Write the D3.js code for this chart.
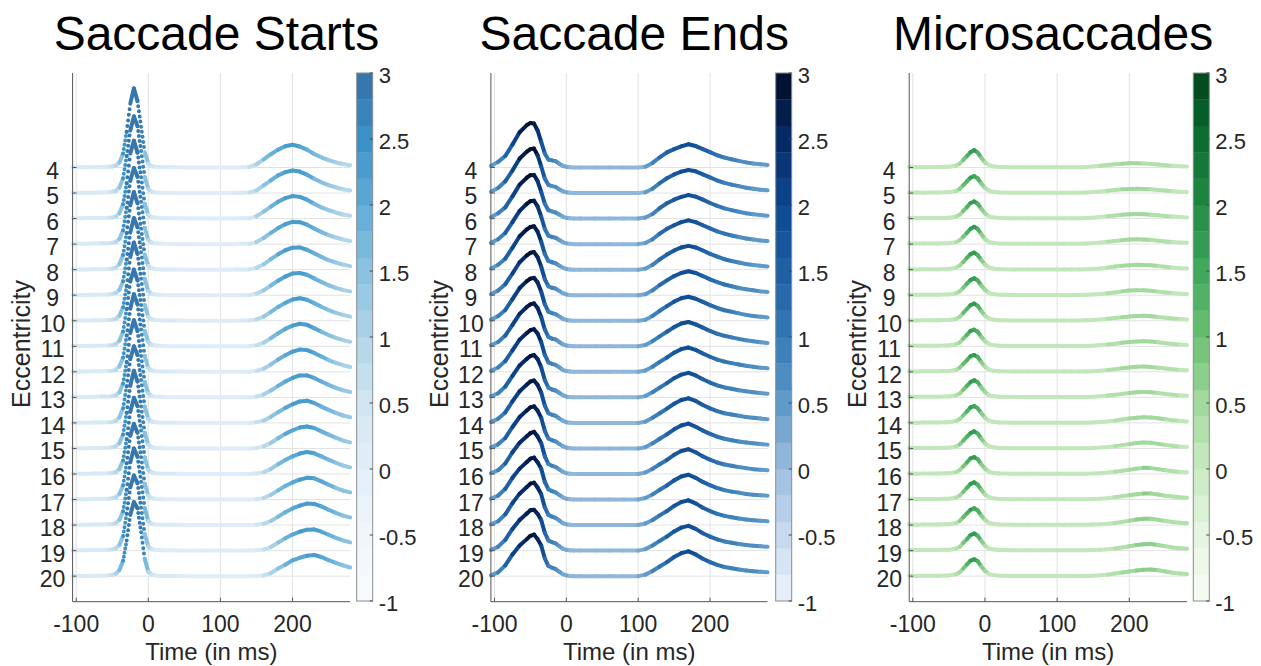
<!DOCTYPE html>
<html>
<head>
<meta charset="utf-8">
<script src="https://cdn.jsdelivr.net/npm/d3@7"></script>
<style>
  body { margin: 0; background: #fff; }
  text { font-family: "Liberation Sans", Arial, Helvetica, sans-serif; fill: #262626; }
</style>
</head>
<body>
<svg id="chart" width="1261" height="666"></svg>
<script>
// Ridge plots of event rates by eccentricity, one panel per event type

// ---- data (amplitudes in eccentricity-row units) ----
const timeMs = [-105, -95, -85, -75, -65, -55, -50, -45, -40, -35, -30, -25, -20, -15, -10, -5, 0, 5, 10, 20,
  40, 60, 80, 100, 110, 120, 130, 140, 150, 160, 170, 180, 190, 200, 210, 220, 230, 240, 250, 260, 270, 280];
const eccentricity = [4, 5, 6, 7, 8, 9, 10, 11, 12, 13, 14, 15, 16, 17, 18, 19, 20];
const xTickValues = [-100, 0, 100, 200];
const cbTickValues = [-1, -0.5, 0, 0.5, 1, 1.5, 2, 2.5, 3];
const panelTitles = ['Saccade Starts', 'Saccade Ends', 'Microsaccades'];

const startsRows = [
  [0.01,0.01,0.01,0.02,0.02,0.03,0.04,0.08,0.20,0.55,1.40,2.50,3.10,2.60,1.60,0.60,0.15,0.05,0.03,0.01,0.01,0.00,0.00,0.00,0.00,0.00,0.01, 0.02,0.12,0.32,0.52,0.70,0.83,0.89,0.82,0.70,0.53,0.40,0.29,0.20,0.14,0.09],
  [0.01,0.01,0.01,0.01,0.02,0.03,0.05,0.09,0.22,0.58,1.45,2.45,3.00,2.62,1.65,0.62,0.16,0.05,0.02,0.01,0.00,0.00,0.00,0.00,0.00,0.01,0.01, 0.02,0.10,0.30,0.50,0.69,0.82,0.88,0.84,0.72,0.56,0.42,0.31,0.22,0.15,0.10],
  [0.01,0.01,0.02,0.02,0.02,0.03,0.04,0.08,0.21,0.56,1.38,2.55,3.05,2.58,1.62,0.58,0.15,0.05,0.03,0.01,0.01,0.00,0.00,0.00,0.00,0.00,0.01, 0.01,0.09,0.27,0.47,0.66,0.80,0.88,0.85,0.74,0.58,0.44,0.33,0.24,0.16,0.11],
  [0.01,0.01,0.01,0.02,0.03,0.03,0.05,0.09,0.20,0.54,1.42,2.48,2.98,2.64,1.66,0.63,0.16,0.06,0.03,0.01,0.00,0.00,0.00,0.00,0.00,0.00,0.01, 0.01,0.08,0.24,0.44,0.63,0.78,0.87,0.86,0.76,0.61,0.47,0.35,0.26,0.18,0.12],
  [0.01,0.01,0.01,0.02,0.02,0.03,0.04,0.08,0.22,0.57,1.44,2.52,3.04,2.60,1.60,0.60,0.15,0.05,0.02,0.01,0.01,0.00,0.00,0.00,0.00,0.01,0.01, 0.01,0.07,0.21,0.41,0.60,0.76,0.86,0.87,0.78,0.64,0.50,0.37,0.28,0.20,0.14],
  [0.01,0.01,0.01,0.02,0.02,0.03,0.05,0.09,0.21,0.55,1.40,2.46,3.02,2.66,1.68,0.64,0.16,0.05,0.03,0.01,0.00,0.00,0.00,0.00,0.00,0.00,0.01, 0.01,0.06,0.19,0.38,0.57,0.73,0.85,0.87,0.80,0.66,0.52,0.39,0.29,0.21,0.15],
  [0.01,0.01,0.01,0.02,0.02,0.03,0.04,0.08,0.20,0.53,1.36,2.50,3.06,2.62,1.64,0.61,0.15,0.05,0.03,0.01,0.01,0.00,0.00,0.00,0.00,0.00,0.01, 0.01,0.05,0.16,0.35,0.54,0.70,0.83,0.88,0.82,0.69,0.55,0.42,0.31,0.23,0.16],
  [0.01,0.01,0.01,0.02,0.02,0.03,0.05,0.09,0.22,0.58,1.46,2.54,3.00,2.58,1.62,0.60,0.16,0.06,0.03,0.01,0.00,0.00,0.00,0.00,0.00,0.00,0.00, 0.00,0.04,0.14,0.32,0.51,0.68,0.81,0.88,0.84,0.71,0.57,0.44,0.33,0.24,0.18],
  [0.01,0.01,0.01,0.02,0.02,0.03,0.04,0.08,0.21,0.56,1.42,2.48,3.04,2.64,1.66,0.62,0.15,0.05,0.02,0.01,0.01,0.00,0.00,0.00,0.00,0.00,0.00, 0.00,0.04,0.12,0.29,0.48,0.65,0.79,0.87,0.85,0.74,0.60,0.46,0.35,0.26,0.19],
  [0.01,0.01,0.01,0.02,0.03,0.03,0.05,0.09,0.20,0.54,1.38,2.52,3.02,2.60,1.62,0.60,0.16,0.05,0.03,0.01,0.00,0.00,0.00,0.00,0.00,0.00,0.00, 0.00,0.03,0.11,0.27,0.45,0.62,0.76,0.86,0.86,0.76,0.62,0.49,0.37,0.28,0.21],
  [0.01,0.01,0.01,0.02,0.02,0.03,0.04,0.08,0.22,0.57,1.44,2.50,3.00,2.66,1.68,0.64,0.16,0.05,0.03,0.01,0.01,0.00,0.00,0.00,0.00,0.00,0.00, 0.00,0.03,0.09,0.24,0.42,0.59,0.73,0.84,0.87,0.78,0.64,0.51,0.39,0.29,0.22],
  [0.01,0.01,0.01,0.02,0.02,0.03,0.05,0.09,0.21,0.55,1.40,2.46,3.04,2.62,1.64,0.61,0.15,0.05,0.02,0.01,0.00,0.00,0.00,0.00,0.00,0.00,0.00, 0.00,0.02,0.08,0.22,0.40,0.57,0.71,0.82,0.86,0.80,0.67,0.54,0.42,0.31,0.24],
  [0.01,0.01,0.01,0.02,0.02,0.03,0.04,0.08,0.20,0.53,1.36,2.44,2.98,2.66,1.70,0.65,0.16,0.06,0.03,0.01,0.01,0.00,0.00,0.00,0.00,0.00,0.00, 0.00,0.02,0.07,0.20,0.38,0.55,0.69,0.80,0.86,0.81,0.69,0.56,0.44,0.33,0.26],
  [0.01,0.01,0.01,0.02,0.02,0.03,0.05,0.09,0.22,0.56,1.42,2.50,2.96,2.62,1.66,0.62,0.15,0.05,0.03,0.01,0.00,0.00,0.00,0.00,0.00,0.00,0.00, 0.00,0.01,0.06,0.18,0.36,0.53,0.67,0.78,0.85,0.83,0.71,0.58,0.46,0.35,0.28],
  [0.01,0.01,0.01,0.02,0.02,0.03,0.04,0.08,0.21,0.54,1.38,2.46,3.00,2.68,1.70,0.66,0.16,0.05,0.02,0.01,0.01,0.00,0.00,0.00,0.00,0.00,0.00, 0.00,0.01,0.05,0.16,0.33,0.50,0.65,0.76,0.84,0.83,0.73,0.60,0.48,0.37,0.30],
  [0.01,0.01,0.01,0.02,0.02,0.03,0.05,0.09,0.22,0.57,1.44,2.48,2.94,2.64,1.68,0.64,0.16,0.06,0.03,0.01,0.00,0.00,0.00,0.00,0.00,0.00,0.00, 0.00,0.01,0.04,0.14,0.32,0.48,0.63,0.74,0.82,0.83,0.74,0.62,0.50,0.40,0.32],
  [0.01,0.01,0.01,0.02,0.02,0.03,0.05,0.10,0.24,0.60,1.40,2.40,2.90,2.66,1.72,0.68,0.17,0.06,0.03,0.01,0.01,0.00,0.00,0.00,0.00,0.00,0.00, 0.00,0.01,0.03,0.12,0.30,0.45,0.62,0.72,0.80,0.83,0.75,0.63,0.52,0.42,0.34]
];

const endsRows = [
  [0.06,0.22,0.45,0.90,1.38,1.66,1.74,1.72,1.45,1.00,0.55,0.31,0.28,0.25,0.15,0.07,0.03,0.01,0.00,0.00,0.00,0.00,0.00,0.00, 0.03,0.18,0.40, 0.59,0.72,0.83,0.91,0.84,0.72,0.60,0.48,0.39,0.32,0.26,0.20,0.16,0.13,0.10],
  [0.05,0.20,0.46,0.88,1.35,1.62,1.72,1.74,1.48,1.04,0.57,0.32,0.27,0.24,0.15,0.07,0.03,0.01,0.00,0.00,0.00,0.00,0.00,0.00, 0.03,0.17,0.39, 0.58,0.73,0.84,0.90,0.85,0.73,0.61,0.49,0.40,0.33,0.27,0.21,0.17,0.13,0.11],
  [0.05,0.21,0.44,0.87,1.33,1.60,1.70,1.71,1.47,1.05,0.58,0.33,0.28,0.24,0.16,0.08,0.03,0.01,0.00,0.00,0.00,0.00,0.00,0.00, 0.04,0.18,0.41, 0.60,0.74,0.85,0.92,0.86,0.74,0.61,0.50,0.40,0.33,0.27,0.21,0.17,0.14,0.11],
  [0.05,0.19,0.44,0.86,1.30,1.58,1.68,1.70,1.48,1.08,0.60,0.33,0.28,0.25,0.16,0.08,0.03,0.01,0.00,0.00,0.00,0.00,0.00,0.00, 0.04,0.19,0.41, 0.60,0.74,0.86,0.93,0.86,0.74,0.62,0.50,0.41,0.34,0.28,0.22,0.18,0.14,0.12],
  [0.04,0.19,0.43,0.86,1.31,1.58,1.67,1.70,1.49,1.10,0.62,0.34,0.29,0.25,0.16,0.08,0.03,0.01,0.00,0.00,0.00,0.00,0.00,0.00, 0.04,0.19,0.40, 0.59,0.75,0.87,0.93,0.87,0.75,0.62,0.51,0.41,0.34,0.28,0.22,0.18,0.15,0.12],
  [0.04,0.18,0.43,0.85,1.29,1.56,1.66,1.69,1.49,1.12,0.63,0.35,0.29,0.26,0.17,0.08,0.03,0.01,0.00,0.00,0.00,0.00,0.00,0.00, 0.04,0.19,0.40, 0.58,0.75,0.87,0.94,0.87,0.75,0.62,0.51,0.42,0.35,0.28,0.23,0.19,0.15,0.13],
  [0.04,0.18,0.42,0.85,1.28,1.55,1.65,1.68,1.50,1.14,0.65,0.36,0.30,0.26,0.17,0.08,0.03,0.01,0.00,0.00,0.00,0.00,0.00,0.00, 0.04,0.19,0.39, 0.57,0.75,0.88,0.94,0.86,0.74,0.61,0.50,0.41,0.35,0.29,0.23,0.19,0.16,0.13],
  [0.04,0.17,0.42,0.84,1.27,1.54,1.64,1.68,1.50,1.15,0.66,0.37,0.30,0.27,0.17,0.08,0.03,0.01,0.00,0.00,0.00,0.00,0.00,0.00, 0.05,0.20,0.39, 0.57,0.75,0.89,0.95,0.86,0.73,0.60,0.49,0.41,0.35,0.29,0.24,0.20,0.16,0.13],
  [0.04,0.17,0.42,0.84,1.26,1.52,1.63,1.67,1.50,1.17,0.67,0.37,0.31,0.27,0.18,0.08,0.03,0.01,0.00,0.00,0.00,0.00,0.00,0.00, 0.05,0.20,0.39, 0.56,0.75,0.89,0.95,0.86,0.72,0.59,0.48,0.40,0.34,0.29,0.24,0.20,0.16,0.14],
  [0.04,0.16,0.42,0.84,1.25,1.51,1.62,1.66,1.50,1.18,0.68,0.38,0.31,0.27,0.18,0.09,0.03,0.01,0.00,0.00,0.00,0.00,0.00,0.00, 0.05,0.20,0.38, 0.56,0.75,0.89,0.96,0.86,0.71,0.58,0.47,0.39,0.34,0.28,0.24,0.20,0.17,0.14],
  [0.04,0.16,0.41,0.84,1.24,1.50,1.62,1.66,1.49,1.19,0.68,0.38,0.32,0.28,0.18,0.09,0.03,0.01,0.00,0.00,0.00,0.00,0.00,0.00, 0.05,0.20,0.38, 0.56,0.75,0.90,0.96,0.86,0.70,0.57,0.46,0.38,0.33,0.28,0.23,0.20,0.17,0.14],
  [0.03,0.16,0.41,0.84,1.23,1.49,1.61,1.65,1.48,1.20,0.69,0.39,0.32,0.28,0.18,0.09,0.03,0.01,0.00,0.00,0.00,0.00,0.00,0.00, 0.05,0.20,0.38, 0.55,0.75,0.90,0.97,0.85,0.70,0.57,0.46,0.38,0.32,0.27,0.23,0.20,0.17,0.15],
  [0.03,0.15,0.41,0.85,1.22,1.48,1.60,1.65,1.47,1.21,0.70,0.39,0.32,0.28,0.18,0.09,0.03,0.01,0.00,0.00,0.00,0.00,0.00,0.00, 0.06,0.20,0.38, 0.55,0.75,0.90,0.97,0.85,0.69,0.56,0.45,0.37,0.32,0.27,0.23,0.19,0.17,0.15],
  [0.03,0.15,0.42,0.85,1.21,1.47,1.60,1.64,1.46,1.21,0.70,0.40,0.33,0.28,0.18,0.09,0.03,0.01,0.00,0.00,0.00,0.00,0.00,0.00, 0.06,0.20,0.38, 0.55,0.75,0.90,0.97,0.85,0.69,0.56,0.45,0.37,0.31,0.27,0.22,0.19,0.17,0.15],
  [0.03,0.15,0.42,0.86,1.23,1.49,1.62,1.66,1.47,1.21,0.70,0.40,0.33,0.28,0.18,0.08,0.03,0.01,0.00,0.00,0.00,0.00,0.00,0.00, 0.06,0.20,0.38, 0.55,0.75,0.90,0.97,0.85,0.68,0.55,0.44,0.36,0.31,0.26,0.22,0.19,0.17,0.15],
  [0.03,0.15,0.42,0.85,1.20,1.45,1.58,1.60,1.44,1.20,0.70,0.40,0.33,0.28,0.18,0.08,0.03,0.01,0.00,0.00,0.00,0.00,0.00,0.00, 0.06,0.20,0.38, 0.55,0.75,0.90,0.97,0.85,0.68,0.55,0.44,0.36,0.31,0.26,0.22,0.19,0.17,0.15],
  [0.03,0.15,0.42,0.85,1.20,1.45,1.58,1.63,1.45,1.20,0.70,0.40,0.33,0.28,0.18,0.08,0.03,0.01,0.00,0.00,0.00,0.00,0.00,0.00, 0.06,0.20,0.38, 0.55,0.75,0.90,0.97,0.85,0.68,0.55,0.44,0.36,0.31,0.26,0.22,0.19,0.17,0.15]
];

const microRows = [
  [0.02,0.01,0.02,0.02,0.02,0.03,0.03,0.05,0.08,0.15,0.30,0.45,0.60,0.68,0.58,0.38,0.20,0.10,0.05,0.02,0.01,0.01,0.01,0.01,0.01,0.01,0.01, 0.02,0.04,0.07,0.10,0.13,0.15,0.17,0.17,0.16,0.14,0.12,0.09,0.07,0.05,0.04],
  [0.02,0.02,0.01,0.02,0.02,0.03,0.03,0.05,0.08,0.16,0.31,0.46,0.60,0.66,0.57,0.37,0.20,0.10,0.05,0.02,0.01,0.01,0.01,0.01,0.01,0.01,0.01, 0.02,0.04,0.06,0.09,0.12,0.15,0.16,0.17,0.16,0.15,0.12,0.10,0.07,0.05,0.04],
  [0.02,0.01,0.02,0.02,0.02,0.02,0.03,0.05,0.08,0.15,0.30,0.45,0.61,0.67,0.58,0.38,0.21,0.10,0.05,0.02,0.01,0.01,0.01,0.01,0.01,0.01,0.01, 0.02,0.03,0.06,0.09,0.12,0.15,0.17,0.18,0.17,0.15,0.13,0.10,0.08,0.06,0.04],
  [0.02,0.02,0.02,0.02,0.02,0.03,0.03,0.05,0.08,0.15,0.29,0.44,0.60,0.68,0.59,0.39,0.20,0.10,0.05,0.02,0.01,0.01,0.01,0.01,0.01,0.01,0.01, 0.02,0.03,0.06,0.09,0.12,0.15,0.18,0.19,0.18,0.16,0.13,0.10,0.08,0.06,0.05],
  [0.02,0.01,0.02,0.02,0.02,0.03,0.03,0.05,0.08,0.16,0.30,0.46,0.61,0.67,0.57,0.37,0.20,0.10,0.05,0.02,0.01,0.01,0.01,0.01,0.01,0.01,0.01, 0.02,0.03,0.05,0.08,0.12,0.15,0.17,0.19,0.18,0.17,0.14,0.11,0.08,0.06,0.05],
  [0.02,0.02,0.02,0.02,0.02,0.03,0.03,0.05,0.08,0.15,0.30,0.45,0.60,0.66,0.58,0.38,0.21,0.10,0.05,0.02,0.01,0.01,0.01,0.01,0.01,0.01,0.01, 0.02,0.03,0.05,0.08,0.11,0.15,0.18,0.19,0.19,0.17,0.14,0.11,0.09,0.06,0.05],
  [0.02,0.01,0.02,0.02,0.02,0.03,0.03,0.05,0.08,0.15,0.31,0.46,0.61,0.67,0.58,0.38,0.20,0.10,0.05,0.02,0.01,0.01,0.01,0.01,0.01,0.01,0.01, 0.02,0.03,0.05,0.08,0.11,0.14,0.17,0.19,0.20,0.18,0.15,0.12,0.09,0.07,0.05],
  [0.02,0.02,0.02,0.02,0.02,0.03,0.03,0.05,0.08,0.15,0.30,0.45,0.60,0.65,0.57,0.37,0.20,0.10,0.05,0.02,0.01,0.01,0.01,0.01,0.01,0.01,0.01, 0.01,0.02,0.05,0.07,0.10,0.14,0.17,0.19,0.20,0.19,0.16,0.12,0.09,0.07,0.05],
  [0.02,0.01,0.02,0.02,0.02,0.03,0.03,0.05,0.08,0.16,0.31,0.46,0.61,0.66,0.58,0.38,0.20,0.10,0.05,0.02,0.01,0.01,0.01,0.01,0.01,0.01,0.01, 0.01,0.02,0.04,0.07,0.10,0.14,0.17,0.20,0.21,0.19,0.16,0.13,0.10,0.07,0.06],
  [0.02,0.02,0.02,0.02,0.02,0.03,0.03,0.05,0.08,0.15,0.30,0.45,0.60,0.67,0.59,0.39,0.21,0.10,0.05,0.02,0.01,0.01,0.01,0.01,0.01,0.01,0.01, 0.01,0.02,0.04,0.07,0.10,0.13,0.17,0.20,0.21,0.20,0.17,0.13,0.10,0.08,0.06],
  [0.02,0.01,0.02,0.02,0.02,0.03,0.03,0.05,0.08,0.15,0.30,0.45,0.61,0.66,0.57,0.38,0.20,0.10,0.05,0.02,0.01,0.01,0.01,0.01,0.01,0.01,0.01, 0.01,0.02,0.04,0.06,0.09,0.13,0.17,0.20,0.22,0.21,0.18,0.14,0.10,0.08,0.06],
  [0.02,0.02,0.02,0.02,0.02,0.03,0.03,0.05,0.08,0.16,0.31,0.46,0.60,0.67,0.58,0.38,0.20,0.10,0.05,0.02,0.01,0.01,0.01,0.01,0.01,0.01,0.01, 0.01,0.02,0.04,0.06,0.09,0.13,0.17,0.21,0.23,0.22,0.18,0.14,0.11,0.08,0.06],
  [0.02,0.01,0.02,0.02,0.02,0.03,0.03,0.05,0.08,0.15,0.30,0.45,0.61,0.66,0.58,0.38,0.21,0.10,0.05,0.02,0.01,0.01,0.01,0.01,0.01,0.01,0.01, 0.01,0.02,0.03,0.06,0.09,0.13,0.17,0.21,0.24,0.23,0.19,0.15,0.11,0.08,0.07],
  [0.02,0.02,0.02,0.02,0.02,0.03,0.03,0.05,0.08,0.15,0.30,0.46,0.61,0.67,0.58,0.38,0.20,0.10,0.05,0.02,0.01,0.01,0.01,0.01,0.01,0.01,0.01, 0.01,0.02,0.03,0.05,0.09,0.13,0.17,0.21,0.24,0.24,0.20,0.15,0.12,0.09,0.07],
  [0.02,0.01,0.02,0.02,0.02,0.03,0.03,0.05,0.08,0.16,0.31,0.46,0.60,0.66,0.57,0.37,0.20,0.10,0.05,0.02,0.01,0.01,0.01,0.01,0.01,0.01,0.01, 0.01,0.02,0.03,0.05,0.08,0.12,0.17,0.22,0.25,0.25,0.21,0.16,0.12,0.09,0.07],
  [0.02,0.02,0.02,0.02,0.02,0.03,0.03,0.05,0.08,0.15,0.30,0.45,0.61,0.67,0.58,0.38,0.20,0.10,0.05,0.02,0.01,0.01,0.01,0.01,0.01,0.01,0.01, 0.01,0.02,0.03,0.05,0.08,0.12,0.17,0.22,0.25,0.26,0.22,0.17,0.12,0.09,0.07],
  [0.02,0.01,0.02,0.02,0.02,0.03,0.03,0.05,0.08,0.15,0.30,0.46,0.61,0.66,0.58,0.38,0.21,0.10,0.05,0.02,0.01,0.01,0.01,0.01,0.01,0.01,0.01, 0.01,0.02,0.04,0.06,0.10,0.14,0.18,0.22,0.25,0.26,0.23,0.18,0.13,0.10,0.08]
];

// ---- layout ----
let svgWidth = 1261;
let svgHeight = 666;
let plotTop = 73;
let plotBottom = 601.7;

// colormap anchors at the colorbar tick values (-1 ... 3)
const panels = [
  { title: panelTitles[0], rows: startsRows, left: 72.6, right: 350.2, cbLeft: 356.7,
    stops: ['#f8fbff', '#eff6fc', '#e4eff9', '#d2e6f2', '#b0d5e8', '#8ac2e0', '#5fabd7', '#3b92c8', '#3570a8'],
    colorValue: a => Math.min(3, 2.5 * Math.sqrt(Math.max(0, a))) },
  { title: panelTitles[1], rows: endsRows, left: 490.9, right: 767.5, cbLeft: 775.7,
    stops: ['#eef5fc', '#c6d9ee', '#9dbde0', '#5f9ac8', '#3479b6', '#1f5fa4', '#0c4890', '#062a66', '#020b26'],
    colorValue: a => Math.min(3, 0.1 + 1.9 * Math.pow(Math.max(0, a), 0.75)) },
  { title: panelTitles[2], rows: microRows, left: 909.2, right: 1187, cbLeft: 1193.3,
    stops: ['#f7fcf5', '#e6f5e1', '#c9eac2', '#a2d99c', '#6cc073', '#3fa85b', '#228a44', '#0a6e30', '#00441b'],
    colorValue: a => Math.min(3, 2.6 * Math.max(0, a)) }
];

let svg = d3.select('#chart')
  .attr('width', svgWidth)
  .attr('height', svgHeight);

// shared y scale: rows stacked downward, peaks rise above baselines
let yScale = d3.scaleLinear()
  .domain([0.3, 21])
  .range([plotTop, plotBottom]);

let cbScale = d3.scaleLinear()
  .domain([-1, 3])
  .range([plotBottom - 0.7, plotTop]);

panels.forEach(function(p) {
  let xScale = d3.scaleLinear()
    .domain([-105, 280])
    .range([p.left, p.right]);

  // 20 discrete colour blocks of 0.2 each
  let smooth = d3.scaleLinear().domain(cbTickValues).range(p.stops).interpolate(d3.interpolateRgb);
  let blocks = d3.range(20).map(k => smooth(-1 + 0.2 * k + 0.1));
  let blockColor = v => blocks[Math.max(0, Math.min(19, Math.floor((v + 1) / 0.2)))];

  let g = svg.append('g');

  // grid
  g.selectAll('.vgrid')
    .data(xTickValues)
    .enter()
    .append('line')
    .attr('x1', d => xScale(d))
    .attr('x2', d => xScale(d))
    .attr('y1', plotTop)
    .attr('y2', plotBottom)
    .attr('stroke', '#e2e2e2')
    .attr('stroke-width', 1);

  g.selectAll('.hgrid')
    .data(eccentricity)
    .enter()
    .append('line')
    .attr('x1', p.left)
    .attr('x2', p.right)
    .attr('y1', d => yScale(d))
    .attr('y2', d => yScale(d))
    .attr('stroke', '#e2e2e2')
    .attr('stroke-width', 1);

  // ridge segments, coloured by amplitude; steep runs drawn as dots (1 ms sampling look)
  let segs = [];
  p.rows.forEach(function(amps, ri) {
    let r = eccentricity[ri];
    for (let i = 0; i < timeMs.length - 1; i++) {
      let x1 = xScale(timeMs[i]), y1 = yScale(r - amps[i]);
      let x2 = xScale(timeMs[i + 1]), y2 = yScale(r - amps[i + 1]);
      let perMs = Math.hypot(x2 - x1, y2 - y1) / (timeMs[i + 1] - timeMs[i]);
      segs.push({ x1, y1, x2, y2, perMs, c: blockColor(p.colorValue((amps[i] + amps[i + 1]) / 2)) });
    }
  });

  g.append('g')
    .selectAll('line')
    .data(segs)
    .enter()
    .append('line')
    .attr('x1', d => d.x1)
    .attr('y1', d => d.y1)
    .attr('x2', d => d.x2)
    .attr('y2', d => d.y2)
    .attr('stroke', d => d.c)
    .attr('stroke-width', 4)
    .attr('stroke-linecap', 'round')
    .attr('stroke-dasharray', d => d.perMs > 3.5 ? `0 ${d.perMs.toFixed(2)}` : null);

  // axes
  g.append('line')
    .attr('x1', p.left).attr('x2', p.left)
    .attr('y1', plotTop).attr('y2', plotBottom)
    .attr('stroke', '#555').attr('stroke-width', 1);
  g.append('line')
    .attr('x1', p.left).attr('x2', p.right)
    .attr('y1', plotBottom).attr('y2', plotBottom)
    .attr('stroke', '#555').attr('stroke-width', 1);

  g.selectAll('.ytick')
    .data(eccentricity)
    .enter()
    .append('line')
    .attr('x1', p.left).attr('x2', p.left + 4)
    .attr('y1', d => yScale(d)).attr('y2', d => yScale(d))
    .attr('stroke', '#555');

  g.selectAll('.xtick')
    .data(xTickValues)
    .enter()
    .append('line')
    .attr('x1', d => xScale(d)).attr('x2', d => xScale(d))
    .attr('y1', plotBottom).attr('y2', plotBottom - 4)
    .attr('stroke', '#555');

  g.selectAll('.ylab')
    .data(eccentricity)
    .enter()
    .append('text')
    .attr('x', p.left - 20)
    .attr('y', d => yScale(d) + 3)
    .attr('text-anchor', 'middle')
    .attr('dominant-baseline', 'central')
    .attr('font-size', '23px')
    .text(d => d);

  g.selectAll('.xlab')
    .data(xTickValues)
    .enter()
    .append('text')
    .attr('x', d => xScale(d))
    .attr('y', 632)
    .attr('text-anchor', 'middle')
    .attr('font-size', '23px')
    .text(d => d);

  g.append('text')
    .attr('x', (p.left + p.right) / 2)
    .attr('y', 660)
    .attr('text-anchor', 'middle')
    .attr('font-size', '24px')
    .text('Time (in ms)');

  g.append('text')
    .attr('transform', `translate(${p.left - 52}, 344) rotate(-90)`)
    .attr('text-anchor', 'middle')
    .attr('dominant-baseline', 'central')
    .attr('font-size', '25px')
    .text('Eccentricity');

  g.append('text')
    .attr('x', (p.left + p.right) / 2 + 5)
    .attr('y', 50)
    .attr('text-anchor', 'middle')
    .attr('font-size', '48px')
    .style('fill', '#000')
    .text(p.title);

  // colorbar
  let cbW = 16;
  g.append('g')
    .selectAll('rect')
    .data(blocks)
    .enter()
    .append('rect')
    .attr('x', p.cbLeft)
    .attr('width', cbW)
    .attr('y', (d, k) => cbScale(-1 + 0.2 * (k + 1)))
    .attr('height', (cbScale(-1) - cbScale(3)) / 20 + 0.3)
    .attr('fill', d => d);

  g.append('rect')
    .attr('x', p.cbLeft).attr('y', cbScale(3))
    .attr('width', cbW).attr('height', cbScale(-1) - cbScale(3))
    .attr('fill', 'none')
    .attr('stroke', '#8c8c8c')
    .attr('stroke-width', 1);

  g.selectAll('.cbtick')
    .data(cbTickValues)
    .enter()
    .append('line')
    .attr('x1', p.cbLeft + cbW - 3).attr('x2', p.cbLeft + cbW)
    .attr('y1', d => cbScale(d)).attr('y2', d => cbScale(d))
    .attr('stroke', '#444');

  g.selectAll('.cblab')
    .data(cbTickValues)
    .enter()
    .append('text')
    .attr('x', p.cbLeft + cbW + 6)
    .attr('y', d => cbScale(d) + 2)
    .attr('dominant-baseline', 'central')
    .attr('font-size', '22px')
    .text(d => d);
});
</script>
</body>
</html>
